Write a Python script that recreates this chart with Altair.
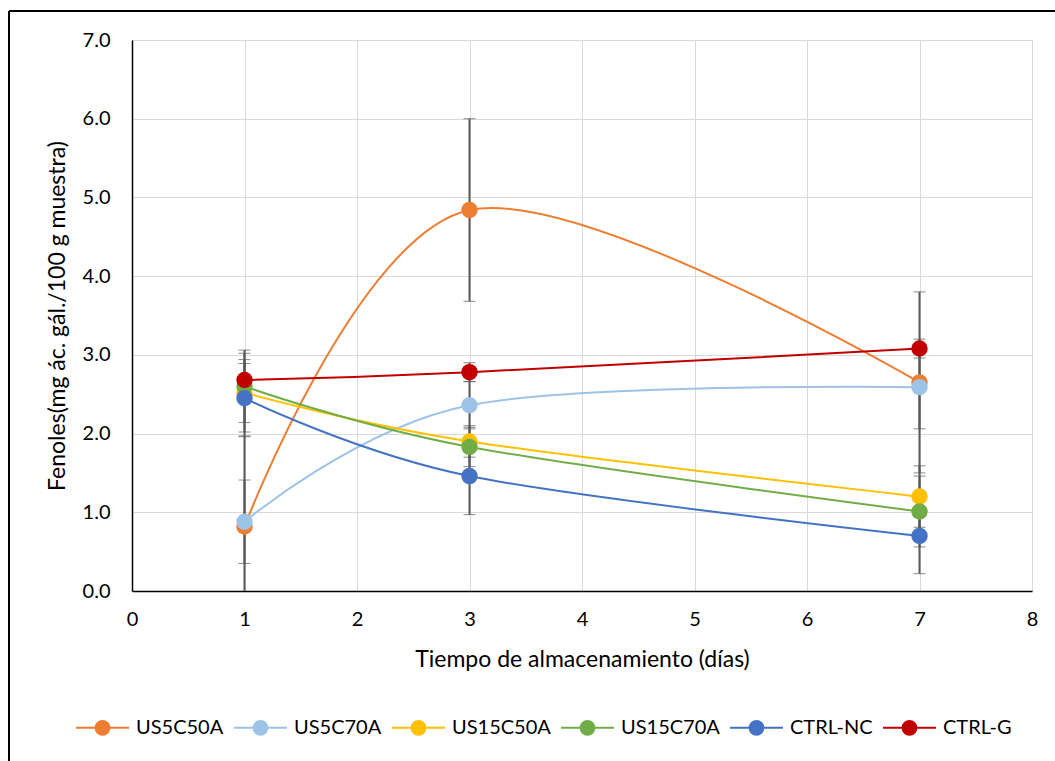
import altair as alt
import pandas as pd

days = [1, 3, 7]
series = ["US5C50A", "US5C70A", "US15C50A", "US15C70A", "CTRL-NC", "CTRL-G"]
colors = ["#ED7D31", "#9DC3E6", "#FFC000", "#70AD47", "#4472C4", "#C00000"]

means = {
    "US5C50A": [0.82, 4.84, 2.65],
    "US5C70A": [0.88, 2.36, 2.59],
    "US15C50A": [2.52, 1.90, 1.20],
    "US15C70A": [2.60, 1.83, 1.01],
    "CTRL-NC": [2.45, 1.46, 0.70],
    "CTRL-G": [2.68, 2.78, 3.08],
}
errs = {
    "US5C50A": [1.15, 1.16, 1.15],
    "US5C70A": [0.53, 0.30, 0.53],
    "US15C50A": [0.50, 0.20, 0.39],
    "US15C70A": [0.46, 0.25, 0.45],
    "CTRL-NC": [0.49, 0.49, 0.48],
    "CTRL-G": [0.21, 0.12, 0.12],
}

rows = []
for k, s in enumerate(series):
    for i, d in enumerate(days):
        m = means[s][i]
        e = errs[s][i]
        rows.append({"serie": s, "dia": d, "valor": m, "lo": m - e, "hi": m + e, "orden": k})
df = pd.DataFrame(rows)

FONT = "Lato"
xs = alt.Scale(domain=[0, 8], nice=False, zero=False)
ys = alt.Scale(domain=[0, 7], nice=False)
cs = alt.Scale(domain=series, range=colors)

XTITLE = "Tiempo de almacenamiento (días)"
YTITLE = "Fenoles(mg ác. gál./100 g muestra)"

xaxis = alt.Axis(title=XTITLE, values=list(range(0, 9)), grid=True, ticks=False,
                 labelPadding=18, titlePadding=19, format="d",
                 labelOverlap=False, labelFlush=False)
yaxis = alt.Axis(title=YTITLE, values=[0, 1, 2, 3, 4, 5, 6, 7], format=".1f", grid=True,
                 ticks=False, labelPadding=22, titlePadding=13, labelOverlap=False, labelFlush=False)

sym = "M-1,0L-0.26,0M0.26,0L1,0M-0.26,0A0.26,0.26 0 1,1 0.26,0A0.26,0.26 0 1,1 -0.26,0Z"

base = alt.Chart(df)

err = base.mark_errorbar(
    clip=True, color="#595959",
    ticks=alt.MarkConfig(size=12, strokeWidth=2, color="#595959"),
    rule=alt.MarkConfig(strokeWidth=2, color="#595959"),
).encode(x=alt.X("dia:Q", scale=xs, axis=xaxis, title=XTITLE),
         y=alt.Y("lo:Q", scale=ys, axis=yaxis, title=YTITLE), y2="hi:Q")

lines = base.mark_line(interpolate="cardinal", strokeWidth=2).encode(
    x=alt.X("dia:Q", scale=xs, axis=xaxis, title=XTITLE),
    y=alt.Y("valor:Q", scale=ys, axis=yaxis, title=YTITLE),
    color=alt.Color("serie:N", scale=cs, sort=series,
                    legend=alt.Legend(title=None, orient="none", direction="horizontal",
                                      legendX=-57, legendY=660, symbolType=sym, symbolSize=2809,
                                      symbolStrokeWidth=2, labelFontSize=20, labelFont=FONT,
                                      labelColor="#000000", labelOffset=6, columnPadding=6,
                                      padding=0, labelLimit=300)),
    detail="serie:N",
)

points = base.mark_point(filled=True, size=270, opacity=1).encode(
    x=alt.X("dia:Q", scale=xs, axis=xaxis, title=XTITLE),
    y=alt.Y("valor:Q", scale=ys, axis=yaxis, title=YTITLE),
    color=alt.Color("serie:N", scale=cs, sort=series),
    order="orden:Q",
)

frame_top = alt.Chart(df).mark_rule(color="#000000", strokeWidth=2, clip=False).encode(
    x=alt.value(-123), x2=alt.value(940), y=alt.value(-29))
frame_left = alt.Chart(df).mark_rule(color="#000000", strokeWidth=2, clip=False).encode(
    x=alt.value(-123), y=alt.value(-29), y2=alt.value(740))

chart = alt.layer(err, lines, points, frame_top, frame_left).properties(
    width=900, height=551,
    autosize=alt.AutoSizeParams(type="none"),
    padding={"left": 132, "top": 40, "right": 23, "bottom": 170},
    background="white",
).configure_view(stroke="#d9d9d9", strokeWidth=1).configure_axis(
    labelFont=FONT, titleFont=FONT, labelFontSize=20, titleFontSize=23,
    labelColor="#000000", titleColor="#000000", titleFontWeight="normal",
    gridColor="#d9d9d9", gridWidth=1, domainColor="#000000", domainWidth=1.5,
)

chart.save("out.html", embed_options={"renderer": "svg", "actions": False})
